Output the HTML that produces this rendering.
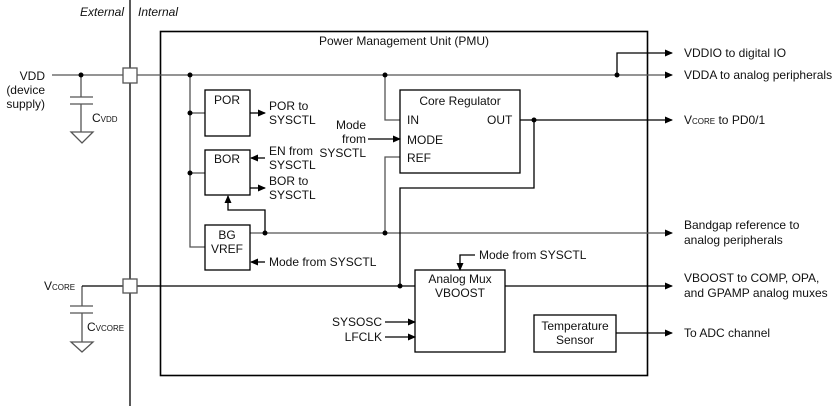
<!DOCTYPE html>
<html><head><style>
body{margin:0;background:#fff}
svg text{font-family:"Liberation Sans",Arial,sans-serif;font-size:12px;fill:#111}
</style></head><body>
<svg width="835" height="406" viewBox="0 0 835 406" xmlns="http://www.w3.org/2000/svg">
<defs><marker id="a" markerWidth="8" markerHeight="8" refX="7" refY="4" orient="auto" markerUnits="userSpaceOnUse"><path d="M0,0.5L8,4L0,7.5z" fill="#000"/></marker></defs>
<g stroke="#000" stroke-width="1.3" fill="none">
<line x1="130" y1="0" x2="130" y2="406"/>
<rect x="160.5" y="31.5" width="487" height="344" stroke-width="1.6"/>
<g stroke="#555">
<line x1="52" y1="75" x2="123" y2="75"/>
<line x1="137" y1="75" x2="672" y2="75" marker-end="url(#a)"/>
<line x1="81" y1="75" x2="81" y2="97"/>
<line x1="70" y1="97" x2="93" y2="97"/>
<line x1="70" y1="104" x2="93" y2="104"/>
<line x1="81" y1="104" x2="81" y2="132"/>
<path d="M71,132H93L82,143Z"/>
<path d="M190,75V247H205"/>
<line x1="190" y1="113" x2="205" y2="113"/>
<line x1="190" y1="173" x2="205" y2="173"/>
<path d="M385,75V120H400"/>
<path d="M617,75V53H672" stroke="#000" marker-end="url(#a)"/>
<line x1="250" y1="233" x2="672" y2="233" marker-end="url(#a)"/>
<path d="M265,233V210H228V196" stroke="#000" marker-end="url(#a)"/>
<path d="M385,233V157H400"/>
</g>
<rect x="123" y="68" width="14" height="15" fill="#fff" stroke="#555"/>
<rect x="205" y="90" width="45" height="46"/>
<rect x="205" y="150" width="45" height="45"/>
<rect x="205" y="225" width="45" height="45"/>
<line x1="250" y1="113" x2="265" y2="113" marker-end="url(#a)"/>
<line x1="265" y1="158" x2="251" y2="158" marker-end="url(#a)"/>
<line x1="250" y1="188" x2="265" y2="188" marker-end="url(#a)"/>
<line x1="265" y1="262" x2="251" y2="262" marker-end="url(#a)"/>
<rect x="400" y="90" width="120" height="83"/>
<line x1="368" y1="139" x2="400" y2="139" marker-end="url(#a)"/>
<line x1="520" y1="120" x2="672" y2="120" marker-end="url(#a)"/>
<path d="M534,120V188H400V286"/>
<path d="M82,286V306M70,306H93M70,313H93M82,313V342M71,342H93L82,352Z" stroke="#555"/>
<line x1="82" y1="286" x2="123" y2="286"/>
<line x1="137" y1="286" x2="415" y2="286"/>
<rect x="123" y="279" width="14" height="14" fill="#fff" stroke="#555"/>
<rect x="415" y="270" width="90" height="82"/>
<path d="M475,255H460V270" marker-end="url(#a)"/>
<line x1="505" y1="286" x2="672" y2="286" marker-end="url(#a)"/>
<line x1="385" y1="322" x2="415" y2="322" marker-end="url(#a)"/>
<line x1="385" y1="337" x2="415" y2="337" marker-end="url(#a)"/>
<rect x="534" y="315" width="82" height="37"/>
<line x1="616" y1="333" x2="672" y2="333" marker-end="url(#a)"/>
</g>
<g fill="#000">
<circle cx="81" cy="75" r="2.5"/><circle cx="190" cy="75" r="2.5"/><circle cx="385" cy="75" r="2.5"/><circle cx="617" cy="75" r="2.5"/>
<circle cx="190" cy="113" r="2.5"/><circle cx="190" cy="173" r="2.5"/>
<circle cx="265" cy="233" r="2.5"/><circle cx="385" cy="233" r="2.5"/>
<circle cx="534" cy="120" r="2.5"/><circle cx="400" cy="286" r="2.5"/>
</g>
<text x="80" y="16" font-style="italic">External</text>
<text x="138" y="16" font-style="italic">Internal</text>
<text x="404" y="45" text-anchor="middle">Power Management Unit (PMU)</text>
<text x="45" y="80" text-anchor="end">VDD</text>
<text x="45" y="94" text-anchor="end">(device</text>
<text x="45" y="108" text-anchor="end">supply)</text>
<text x="92" y="122">C<tspan font-size="8">VDD</tspan></text>
<text x="44" y="290">V<tspan font-size="8">CORE</tspan></text>
<text x="87" y="331">C<tspan font-size="8">VCORE</tspan></text>
<text x="227" y="104" text-anchor="middle">POR</text>
<text x="227" y="163" text-anchor="middle">BOR</text>
<text x="227" y="239" text-anchor="middle">BG</text>
<text x="227" y="253" text-anchor="middle">VREF</text>
<text x="269" y="110">POR to</text><text x="269" y="124">SYSCTL</text>
<text x="269" y="155">EN from</text><text x="269" y="169">SYSCTL</text>
<text x="269" y="185">BOR to</text><text x="269" y="199">SYSCTL</text>
<text x="269" y="266">Mode from SYSCTL</text>
<text x="366" y="129" text-anchor="end">Mode</text>
<text x="366" y="143" text-anchor="end">from</text>
<text x="366" y="157" text-anchor="end">SYSCTL</text>
<text x="460" y="105" text-anchor="middle">Core Regulator</text>
<text x="407" y="124">IN</text>
<text x="407" y="144">MODE</text>
<text x="407" y="162">REF</text>
<text x="487" y="124">OUT</text>
<text x="479" y="259">Mode from SYSCTL</text>
<text x="460" y="283" text-anchor="middle">Analog Mux</text>
<text x="460" y="297" text-anchor="middle">VBOOST</text>
<text x="382" y="326" text-anchor="end">SYSOSC</text>
<text x="382" y="341" text-anchor="end">LFCLK</text>
<text x="575" y="330" text-anchor="middle">Temperature</text>
<text x="575" y="344" text-anchor="middle">Sensor</text>
<text x="684" y="57">VDDIO to digital IO</text>
<text x="684" y="79">VDDA to analog peripherals</text>
<text x="684" y="124">V<tspan font-size="8">CORE</tspan> to PD0/1</text>
<text x="684" y="229">Bandgap reference to</text>
<text x="684" y="244">analog peripherals</text>
<text x="684" y="282">VBOOST to COMP, OPA,</text>
<text x="684" y="297">and GPAMP analog muxes</text>
<text x="684" y="337">To ADC channel</text>
</svg>
</body></html>
